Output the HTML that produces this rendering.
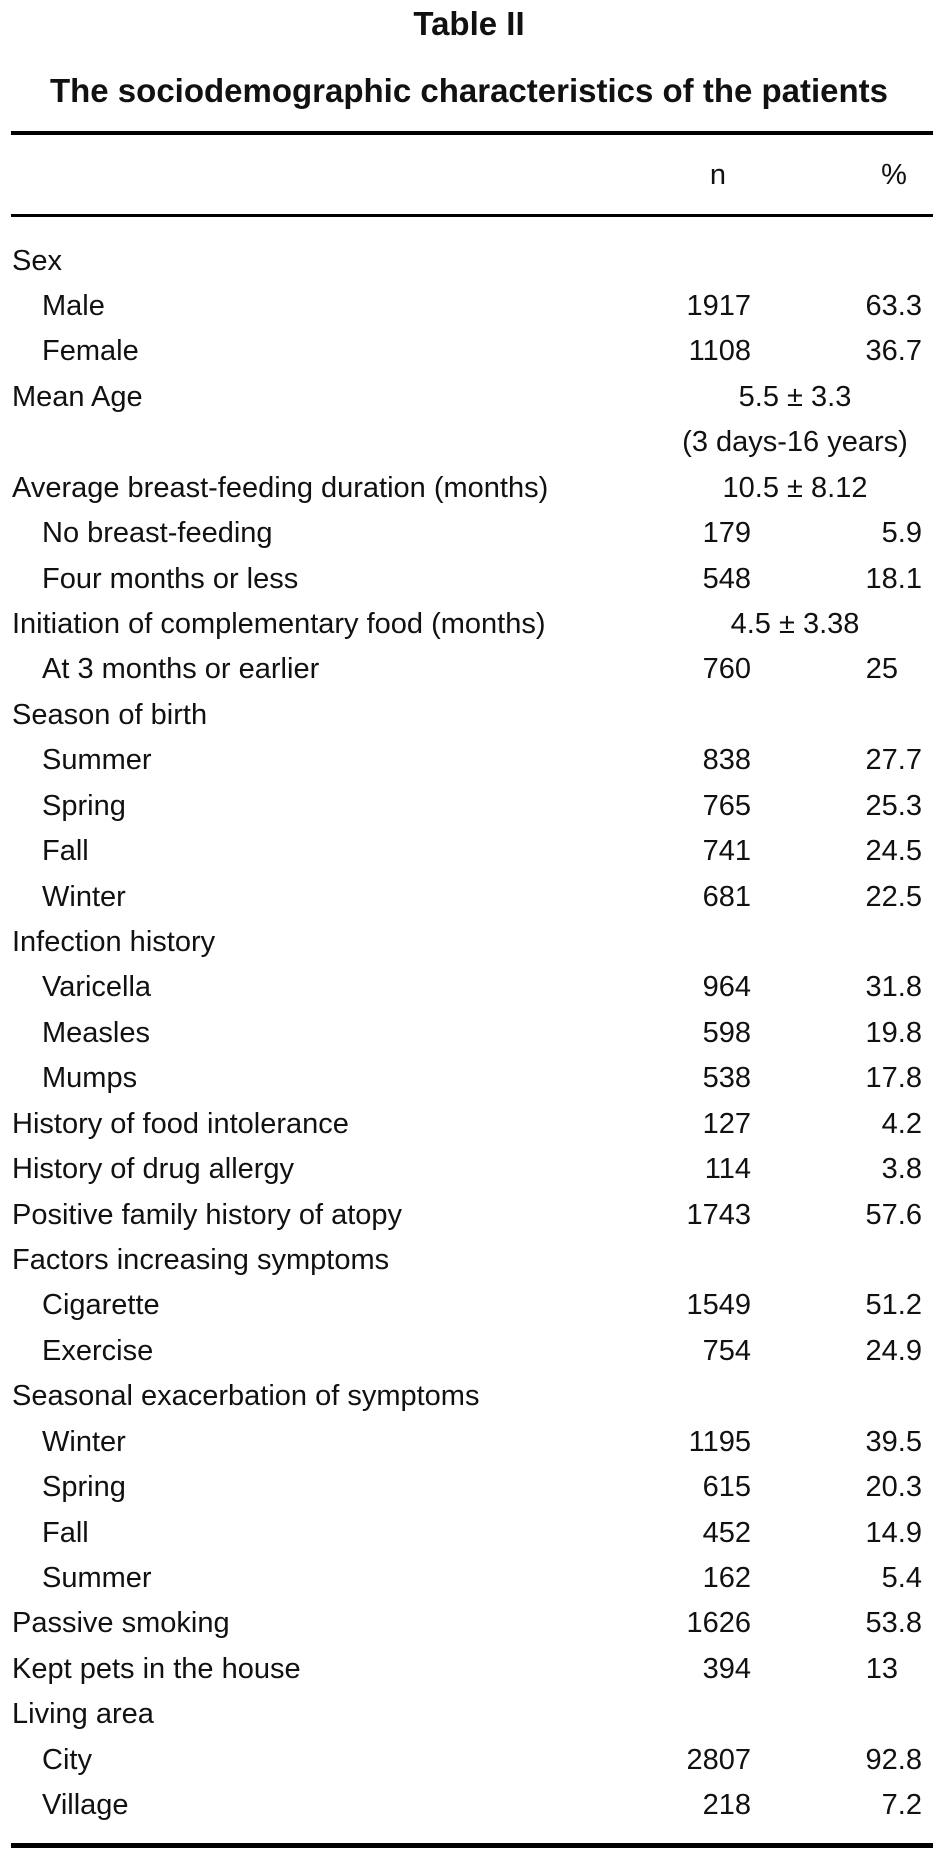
<!DOCTYPE html>
<html><head><meta charset="utf-8"><style>
body{margin:0;width:938px;height:1862px;background:#fff;position:relative;overflow:hidden;font-family:"Liberation Sans",sans-serif;color:#111}
.t{position:absolute;left:0;width:938px;text-align:center;font-weight:bold;font-size:33px;line-height:38px}
.rule{position:absolute;left:11px;width:922px;background:#000}
.row{position:absolute;left:0;width:938px;height:45px;font-size:29px;line-height:45px}
.l{position:absolute;left:12px;white-space:nowrap}
.l.i{left:42px}
.n{position:absolute;right:187px;text-align:right}
.p{position:absolute;right:16px;text-align:right}
.p.w{right:40px}
.c{position:absolute;left:795px;transform:translateX(-50%);white-space:nowrap}
</style></head><body>
<div class="t" style="top:5px">Table II</div>
<div class="t" style="top:72px">The sociodemographic characteristics of the patients</div>
<div class="rule" style="top:131px;height:4px"></div>
<div class="row" style="top:153px">
<span style="position:absolute;left:718px;transform:translateX(-50%)">n</span>
<span style="position:absolute;left:894px;transform:translateX(-50%)">%</span>
</div>
<div class="rule" style="top:214px;height:3px"></div>
<div id="rows"></div>
<div class="rule" style="top:1843px;height:5px"></div>
<script>
const labels=["Sex","Male","Female","Mean Age","","Average breast-feeding duration (months)","No breast-feeding","Four months or less","Initiation of complementary food (months)","At 3 months or earlier","Season of birth","Summer","Spring","Fall","Winter","Infection history","Varicella","Measles","Mumps","History of food intolerance","History of drug allergy","Positive family history of atopy","Factors increasing symptoms","Cigarette","Exercise","Seasonal exacerbation of symptoms","Winter","Spring","Fall","Summer","Passive smoking","Kept pets in the house","Living area","City","Village"];
const indent=[0,1,1,0,0,0,1,1,0,1,0,1,1,1,1,0,1,1,1,0,0,0,0,1,1,0,1,1,1,1,0,0,0,1,1];
const nVals=["","1917","1108","","","","179","548","","760","","838","765","741","681","","964","598","538","127","114","1743","","1549","754","","1195","615","452","162","1626","394","","2807","218"];
const pVals=["","63.3","36.7","","","","5.9","18.1","","25","","27.7","25.3","24.5","22.5","","31.8","19.8","17.8","4.2","3.8","57.6","","51.2","24.9","","39.5","20.3","14.9","5.4","53.8","13","","92.8","7.2"];
const centerVals={3:"5.5 \u00b1 3.3",4:"(3 days-16 years)",5:"10.5 \u00b1 8.12",8:"4.5 \u00b1 3.38"};
const root=document.getElementById('rows');
labels.forEach((lab,i)=>{
const r=document.createElement('div');r.className='row';


r.style.top=(261+i*45.43-22.5)+'px';
let h='';
if(lab)h+='<span class="l'+(indent[i]?' i':'')+'">'+lab+'</span>';
if(nVals[i])h+='<span class="n">'+nVals[i]+'</span>';
if(pVals[i])h+='<span class="p'+(pVals[i].indexOf('.')<0?' w':'')+'">'+pVals[i]+'</span>';
if(centerVals[i])h+='<span class="c">'+centerVals[i]+'</span>';
r.innerHTML=h;root.appendChild(r);
});
</script>
</body></html>
